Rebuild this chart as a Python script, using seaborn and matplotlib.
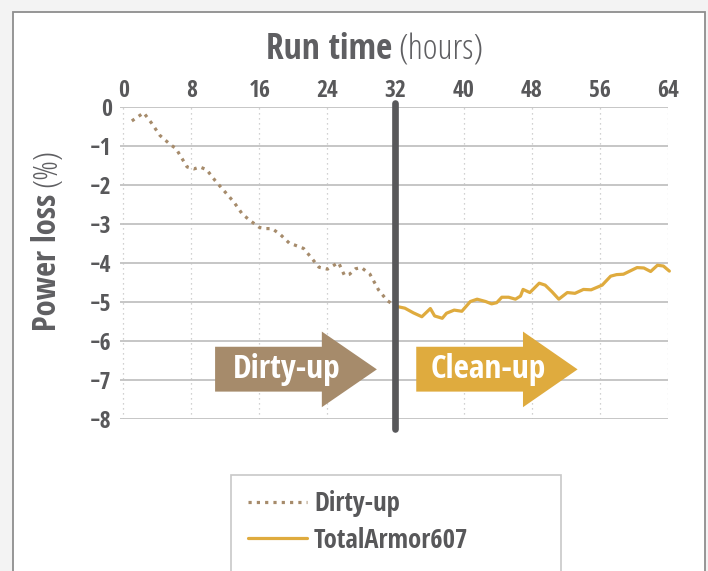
import matplotlib
matplotlib.use("Agg")
import matplotlib.pyplot as plt
from matplotlib import font_manager
from matplotlib.font_manager import FontProperties
from matplotlib.patches import Polygon, Rectangle
import seaborn as sns
import pandas as pd

# ---------------- data ----------------
dirty_hours = [1.0, 2.4, 3.3, 4.3, 5.5, 6.2, 7.5, 8.3, 9.0, 9.8, 10.8, 12.0, 13.0,
               14.0, 15.0, 16.0, 16.7, 17.5, 18.5, 19.5, 20.5, 21.2, 22.0, 23.0,
               24.0, 25.3, 26.0, 26.6, 27.3, 28.0, 29.0, 30.0, 31.0, 32.0]
dirty_loss = [-0.35, -0.14, -0.40, -0.72, -0.95, -1.06, -1.53, -1.58, -1.53, -1.60,
              -1.88, -2.18, -2.43, -2.74, -2.92, -3.08, -3.11, -3.11, -3.27, -3.48,
              -3.56, -3.62, -3.83, -4.10, -4.15, -3.98, -4.31, -4.28, -4.14, -4.11,
              -4.28, -4.68, -4.95, -5.10]
clean_hours = [32.0, 33.1, 34.1, 35.1, 36.1, 36.6, 37.5, 38.0, 38.9, 39.8, 40.8, 41.6,
               42.6, 43.3, 43.9, 44.5, 45.3, 46.1, 46.7, 47.0, 47.8, 48.9, 49.6, 50.4,
               51.2, 52.2, 53.1, 54.1, 55.0, 56.3, 57.3, 58.0, 58.8, 60.4, 61.2, 62.0,
               62.8, 63.5, 64.2]
clean_loss = [-5.10, -5.15, -5.27, -5.37, -5.16, -5.35, -5.41, -5.28, -5.20, -5.23,
              -4.98, -4.92, -4.98, -5.04, -5.01, -4.87, -4.87, -4.92, -4.84, -4.67,
              -4.75, -4.51, -4.56, -4.73, -4.92, -4.75, -4.77, -4.67, -4.68, -4.56,
              -4.33, -4.29, -4.28, -4.11, -4.12, -4.21, -4.05, -4.07, -4.20]
x_ticks = [0, 8, 16, 24, 32, 40, 48, 56, 64]
y_ticks = [0, -1, -2, -3, -4, -5, -6, -7, -8]
series_names = ["Dirty-up", "TotalArmor607"]
phase_labels = ["Dirty-up", "Clean-up"]
switch_hour = 32

# ---------------- fonts ----------------
sns.set_theme(style="white")

WEIGHTS = {"thin": 100, "extralight": 200, "ultralight": 200, "light": 300,
           "normal": 400, "regular": 400, "book": 400, "medium": 500,
           "semibold": 600, "demibold": 600, "bold": 700, "extrabold": 800,
           "heavy": 800, "black": 900}


def weight_of(f):
    w = f.weight
    if isinstance(w, str):
        return WEIGHTS.get(w.lower(), 400)
    return int(w)


def is_condensed(f):
    st = f.stretch
    if isinstance(st, str):
        return "condensed" in st or "narrow" in st
    try:
        return float(st) < 500
    except Exception:
        return False


ttf = font_manager.fontManager.ttflist
family, stretch = "DejaVu Sans", "normal"
for name in ["Liberation Sans Narrow", "Open Sans Condensed", "Roboto Condensed",
             "Noto Sans Condensed", "DejaVu Sans Condensed"]:
    if any(f.name == name for f in ttf):
        family, stretch = name, "normal"
        break
else:
    for name in ["Open Sans", "Noto Sans", "Roboto", "DejaVu Sans"]:
        conds = [f for f in ttf if f.name == name and is_condensed(f)]
        if conds:
            family = name
            st = conds[0].stretch
            stretch = st if isinstance(st, str) else "condensed"
            break


def light_font():
    light_cond = [f for f in ttf if is_condensed(f) and weight_of(f) <= 350
                  and "italic" not in f.style]
    for name in ["Open Sans", "Open Sans Condensed", "Noto Sans", "Noto Sans Condensed",
                 "Roboto", "Roboto Condensed"]:
        for f in light_cond:
            if f.name == name:
                return f.fname
    for name in ["Roboto", "Open Sans", "Noto Sans", "Lato"]:
        cands = [f for f in ttf if f.name == name and weight_of(f) == 300
                 and f.style == "normal" and not is_condensed(f)]
        if cands:
            return cands[0].fname
    return None


LIGHT_PATH = light_font()


def light_props(size):
    if LIGHT_PATH:
        return FontProperties(fname=LIGHT_PATH, size=size)
    return FontProperties(family="DejaVu Sans", weight="light", size=size)


plt.rcParams["font.family"] = [family, "DejaVu Sans"]
plt.rcParams["font.stretch"] = stretch

DIRTY = "#a68b6b"
CLEAN = "#dfab3e"
DARK = "#58585a"
TITLE = "#5f5f62"
GRID = "#c2c2c2"

W, H = 708, 571
fig = plt.figure(figsize=(W / 100, H / 100), dpi=100, facecolor="#f3f3f3")
renderer = fig.canvas.get_renderer()


def fx(px):
    return px / W


def fy(py):
    return 1 - py / H


def fit(t, target, vertical=False):
    """shrink a text so that its length does not exceed target pixels"""
    bb = t.get_window_extent(renderer)
    length = bb.height if vertical else bb.width
    if length > target:
        t.set_fontsize(t.get_fontsize() * target / length)
    return t.get_fontsize()


# white panel
fig.add_artist(Rectangle((fx(13), -0.1), fx(705) - fx(13), fy(12) + 0.1,
                         transform=fig.transFigure, facecolor="white",
                         edgecolor="#8e8e8e", lw=1.3, zorder=-10))

ax = fig.add_axes([fx(120), fy(419.3), fx(668) - fx(120), fy(107.3) - fy(419.3)])
ax.set_facecolor("none")
for s in ax.spines.values():
    s.set_visible(False)

df_dirty = pd.DataFrame({"hours": dirty_hours, "loss": dirty_loss})
df_clean = pd.DataFrame({"hours": clean_hours, "loss": clean_loss})

sns.lineplot(data=df_dirty, x="hours", y="loss", ax=ax, color=DIRTY, lw=2.3,
             linestyle=(0, (1, 1.6)), label=series_names[0], errorbar=None, zorder=3)
sns.lineplot(data=df_clean, x="hours", y="loss", ax=ax, color=CLEAN, lw=2.3,
             label=series_names[1], errorbar=None, zorder=3)
for ln in ax.lines:
    ln.set_clip_on(False)

ax.set_xlim(-0.39, 64.04)
ax.set_ylim(-8, 0)
ax.set_xticks(x_ticks)
ax.set_yticks(y_ticks)
ax.xaxis.tick_top()
ax.set_xlabel("")
ax.set_ylabel("")
ax.set_axisbelow(True)
ax.grid(axis="y", color=GRID, lw=1.3, ls="-")
ax.grid(axis="x", color=GRID, lw=0.9, ls=(0, (1, 3)))
ax.tick_params(axis="x", length=0, pad=3, labelsize=17, labelcolor=DARK)
ax.tick_params(axis="y", length=0, pad=6, labelsize=17, labelcolor=DARK)
for lab in ax.get_xticklabels() + ax.get_yticklabels():
    lab.set_fontweight("bold")

# vertical divider at the switch from dirty-up to clean-up
ax.plot([switch_hour, switch_hour], [0.11, -8.25], color=DARK, lw=4.8,
        solid_capstyle="round", clip_on=False, zorder=4)


# phase arrows
def arrow(x0, xb, xt, color, text, tx, target_w):
    pts = [(x0, -6.14), (xb, -6.14), (xb, -5.75), (xt, -6.72), (xb, -7.69),
           (xb, -7.29), (x0, -7.29)]
    ax.add_patch(Polygon(pts, closed=True, facecolor=color, edgecolor="none",
                         zorder=2, clip_on=False))
    t = ax.text(tx, -6.95, text, color="white", fontsize=24, fontweight="bold",
                ha="center", va="baseline", zorder=5)
    fit(t, target_w)


arrow(10.79, 23.34, 29.81, DIRTY, phase_labels[0], 19.2, 112)
arrow(34.44, 46.99, 53.41, CLEAN, phase_labels[1], 42.9, 122)

# title: "Run time (hours)"
t1 = fig.text(0, fy(59.3), "Run time", fontsize=25.5, fontweight="bold", color=TITLE,
              ha="left", va="baseline")
t2 = fig.text(0, fy(59.3), "(hours)", fontproperties=light_props(25.5), color=TITLE,
              ha="left", va="baseline")
fit(t1, 126)
fit(t2, 90)
w1 = t1.get_window_extent(renderer).width
w2 = t2.get_window_extent(renderer).width
start = 375 - (w1 + 6 + w2) / 2
t1.set_x(fx(start))
t2.set_x(fx(start + w1 + 6))

# y label: "Power loss (%)"
y1 = fig.text(fx(56.5), 0, "Power loss", fontsize=24, fontweight="bold", color=TITLE,
              rotation=90, rotation_mode="anchor", ha="left", va="baseline")
y2 = fig.text(fx(56.5), 0, "(%)", fontproperties=light_props(24), color=TITLE,
              rotation=90, rotation_mode="anchor", ha="left", va="baseline")
fit(y1, 138, vertical=True)
fit(y2, 50, vertical=True)
h1 = y1.get_window_extent(renderer).height
h2 = y2.get_window_extent(renderer).height
ystart = 240 + (h1 + 7 + h2) / 2
y1.set_y(fy(ystart))
y2.set_y(fy(ystart - h1 - 7))

# legend frame (runs past the bottom edge like the reference)
fig.add_artist(Rectangle((fx(230.7), -0.1), fx(561) - fx(230.7), fy(475) + 0.1,
                         transform=fig.transFigure, facecolor="white",
                         edgecolor="#c8c8c8", lw=1.2, zorder=-5))

probe = fig.text(0, 0, series_names[1], fontsize=20, fontweight="bold")
leg_size = fit(probe, 154)
probe.remove()

leg = ax.legend(loc="center left", bbox_to_anchor=(fx(248), fy(522)),
                bbox_transform=fig.transFigure, frameon=False, borderaxespad=0,
                borderpad=0, handlelength=2.25 * 19 / leg_size, handletextpad=0.25,
                labelspacing=0.35 * 19 / leg_size,
                prop={"size": leg_size, "weight": "bold"})
for t in leg.get_texts():
    t.set_color(DARK)

fig.savefig("out.png", dpi=100, facecolor=fig.get_facecolor())
